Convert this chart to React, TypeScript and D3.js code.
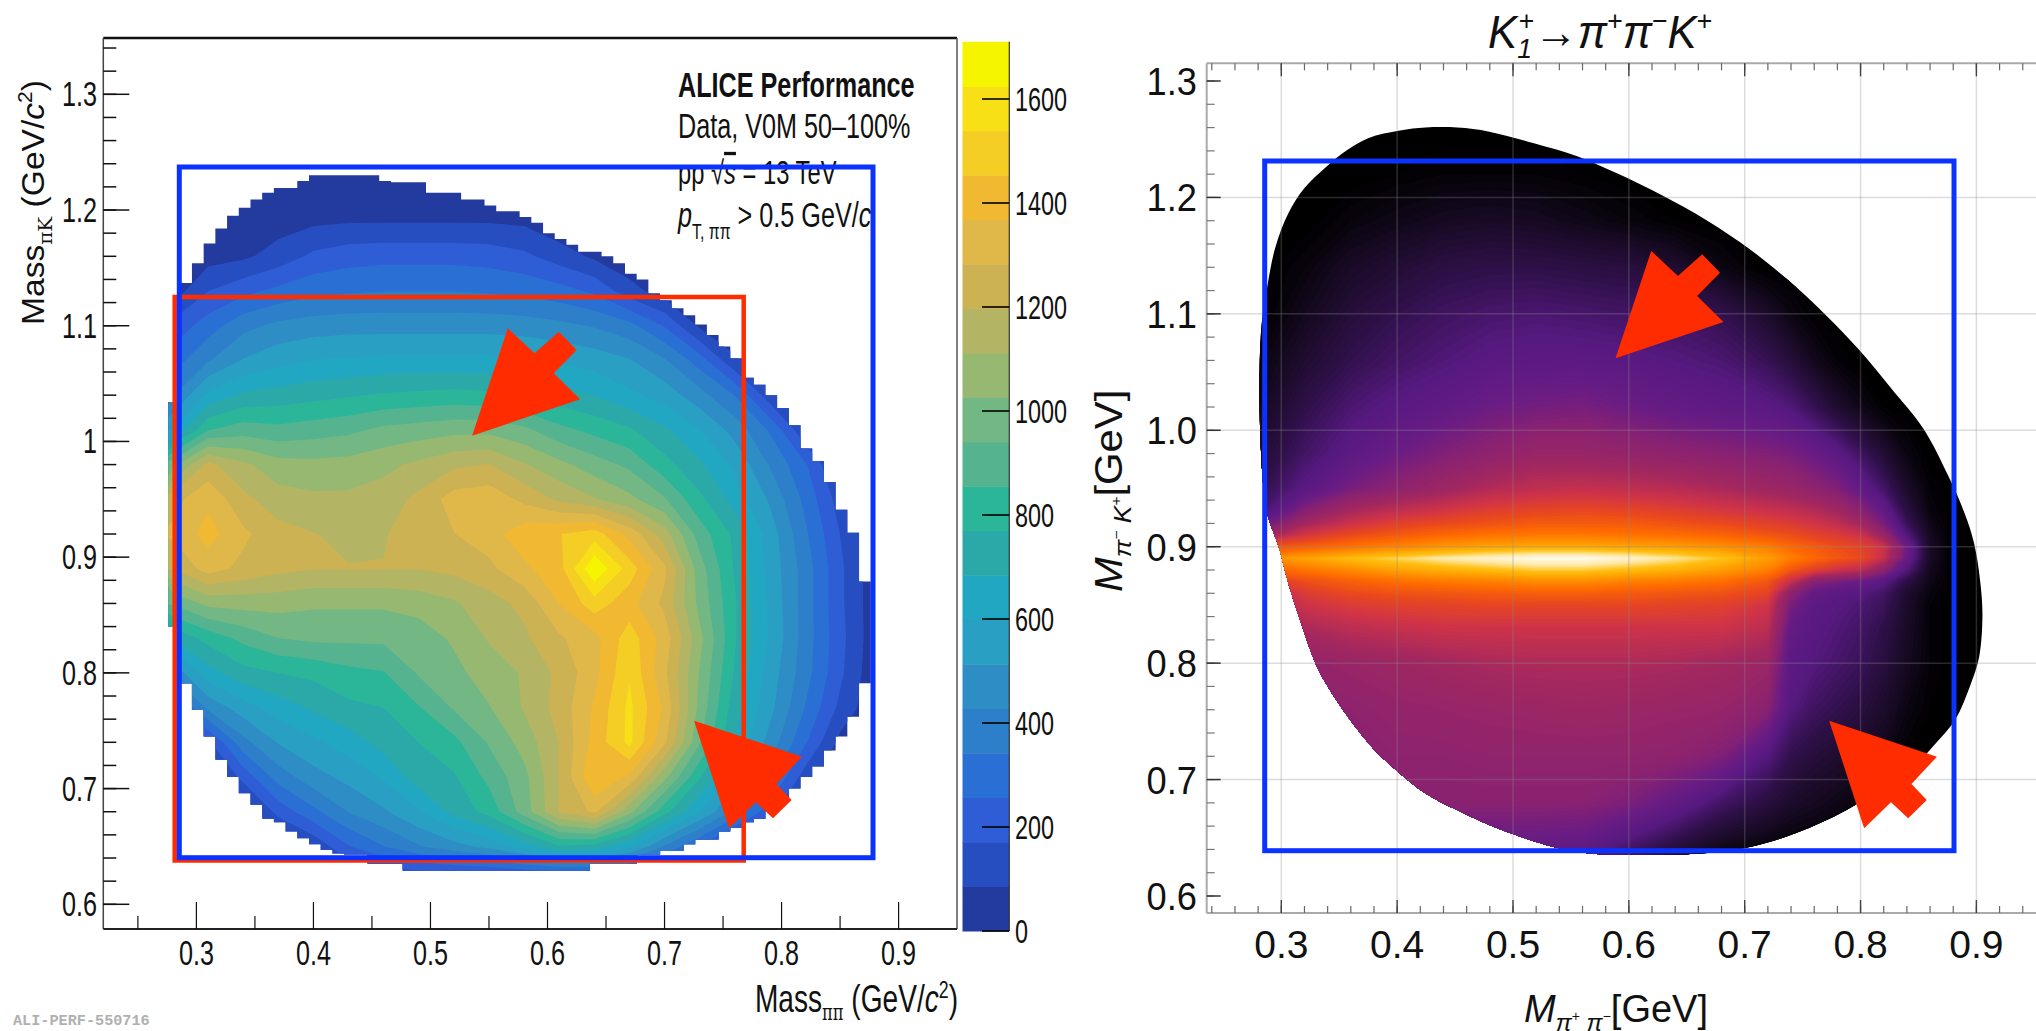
import React, { useMemo } from "react";
import * as d3 from "d3";

// ---------- left panel data (ALICE) ----------
const leftXNodes = [0.28,0.31,0.34,0.37,0.40,0.43,0.46,0.49,0.52,0.55,0.58,0.61,0.64,0.67,0.70,0.73,0.76,0.79,0.82,0.85,0.88];
const leftYNodes = [1.25,1.22,1.19,1.16,1.13,1.10,1.07,1.04,1.01,0.98,0.95,0.92,0.89,0.86,0.83,0.80,0.77,0.74,0.71,0.68,0.65,0.62];
const leftCounts = [
 [20,20,20,20,20,20,20,20,20,20,20,20,20,20,20,20,20,20,20,20,20],
 [20,20,20,30,40,40,40,40,40,40,30,20,20,20,20,20,20,20,20,20,20],
 [20,20,40,50,70,80,80,80,80,80,70,20,20,20,20,20,20,20,20,20,20],
 [20,50,70,120,190,220,230,230,230,220,190,130,70,20,20,20,20,20,20,20,20],
 [40,170,230,280,320,330,340,340,340,330,320,290,240,120,40,20,20,20,20,20,20],
 [200,300,400,450,470,480,480,480,480,480,470,450,420,370,250,70,20,20,20,20,20],
 [300,420,520,570,600,610,620,620,620,620,610,590,560,520,440,300,100,20,20,20,20],
 [420,620,700,720,740,760,780,790,800,790,760,720,680,620,560,460,340,120,20,20,20],
 [600,850,900,880,900,920,960,980,1000,1000,960,880,830,780,700,600,480,330,100,20,20],
 [1000,1220,1130,1060,1050,1060,1090,1130,1180,1200,1120,1050,980,920,800,700,580,420,270,60,20],
 [1250,1350,1220,1150,1130,1130,1150,1220,1320,1340,1260,1180,1120,1050,950,790,650,500,320,130,20],
 [1300,1400,1300,1230,1200,1180,1190,1240,1280,1330,1420,1450,1500,1340,1150,900,750,560,360,170,20],
 [1200,1320,1260,1220,1200,1200,1200,1200,1220,1260,1350,1420,1700,1500,1300,980,760,570,390,190,30],
 [950,1050,1060,1060,1040,1040,1040,1060,1100,1160,1220,1370,1500,1400,1260,1000,780,580,390,190,30],
 [700,800,880,940,960,960,960,980,1040,1120,1180,1270,1340,1500,1330,1050,780,590,390,200,30],
 [450,650,740,770,790,830,850,950,1000,1070,1120,1220,1340,1530,1300,1020,760,560,380,190,20],
 [200,450,560,640,700,750,770,850,950,1020,1120,1230,1380,1560,1350,1000,720,540,340,150,20],
 [20,150,400,520,580,640,720,770,830,950,1060,1200,1400,1560,1300,950,680,480,270,60,20],
 [20,20,200,380,480,540,610,730,760,880,1000,1200,1450,1350,1050,780,560,370,130,20,20],
 [20,20,20,200,320,430,500,590,710,800,980,1200,1300,1050,800,600,400,200,20,20,20],
 [20,20,20,20,100,250,340,420,480,540,640,760,740,620,420,250,60,20,20,20,20],
 [20,20,20,20,20,40,60,60,60,60,60,60,60,60,30,20,20,20,20,20,20],
];
const leftOutlineStart = 0.2762;
const leftOutlineStep = 0.01;
const leftOutlineTop = [1.034,1.137,1.154,1.171,1.184,1.195,1.202,1.209,1.215,1.219,1.219,1.225,1.230,1.230,1.230,1.230,1.230,1.230,1.225,1.224,1.224,1.224,1.215,1.215,1.215,1.209,1.209,1.204,1.199,1.199,1.194,1.189,1.180,1.175,1.170,1.164,1.164,1.160,1.154,1.145,1.140,1.128,1.122,1.115,1.109,1.101,1.092,1.082,1.072,1.055,1.049,1.040,1.029,1.014,0.994,0.983,0.965,0.941,0.921,0.879];
const leftOutlineBottom = [0.840,0.791,0.768,0.745,0.725,0.710,0.696,0.686,0.674,0.671,0.663,0.657,0.652,0.647,0.644,0.643,0.643,0.635,0.635,0.635,0.629,0.629,0.629,0.629,0.629,0.629,0.629,0.629,0.629,0.629,0.629,0.629,0.629,0.629,0.629,0.629,0.635,0.635,0.635,0.635,0.643,0.643,0.646,0.646,0.652,0.656,0.656,0.663,0.666,0.671,0.674,0.682,0.692,0.700,0.710,0.719,0.733,0.745,0.762,0.791];
const paletteBands = ["#233a9f","#274ec0","#2f5dd6","#2a6fd4","#2e7fc9","#2f8dc6","#2a9fc4","#22a7c2","#2ba9a9","#2bb69a","#55b38f","#73b884","#97b870","#b3b564","#cdb254","#e0b84a","#f1b832","#f5ce25","#f7e116","#f5f500"];
const bandWidth = 85.5;
const leftXTicks = [0.3,0.4,0.5,0.6,0.7,0.8,0.9];
const leftYTicks = [0.6,0.7,0.8,0.9,1.0,1.1,1.2,1.3];
const colorbarTicks = [0,200,400,600,800,1000,1200,1400,1600];

// ---------- right panel data (model) ----------
const rightXNodes = [0.28,0.32,0.36,0.40,0.44,0.48,0.52,0.56,0.60,0.64,0.68,0.72,0.74,0.76,0.78,0.80,0.82,0.84,0.86,0.88,0.90,0.92];
const rightYNodes = [1.26,1.22,1.18,1.14,1.10,1.06,1.02,0.98,0.95,0.93,0.92,0.91,0.90,0.89,0.88,0.87,0.86,0.85,0.83,0.80,0.76,0.72,0.68,0.64,0.62];
const rightIntensity = [
 [0,0,0,0,0,0,0,0,0,0,0,0,0,0,0,0,0,0,0,0,0,0],
 [0,0,0,.01,.02,.02,.02,.01,0,0,0,0,0,0,0,0,0,0,0,0,0,0],
 [0,0,.03,.05,.07,.08,.07,.05,.03,.01,0,0,0,0,0,0,0,0,0,0,0,0],
 [0,.03,.08,.11,.14,.15,.15,.14,.13,.10,.04,0,0,0,0,0,0,0,0,0,0,0],
 [0,.06,.12,.16,.19,.21,.22,.21,.20,.19,.16,.09,.04,.01,0,0,0,0,0,0,0,0],
 [.03,.10,.16,.20,.23,.26,.27,.27,.26,.24,.22,.17,.12,.06,.02,0,0,0,0,0,0,0],
 [.06,.15,.22,.26,.29,.33,.35,.36,.33,.30,.28,.26,.23,.17,.10,.05,.01,0,0,0,0,0],
 [.10,.20,.27,.33,.38,.42,.46,.46,.44,.42,.40,.38,.36,.32,.27,.19,.11,.04,0,0,0,0],
 [.15,.26,.36,.42,.48,.54,.57,.58,.57,.55,.52,.48,.46,.42,.38,.30,.20,.09,.02,0,0,0],
 [.20,.40,.52,.58,.62,.66,.68,.69,.68,.66,.63,.60,.58,.55,.50,.42,.30,.14,.03,0,0,0],
 [.30,.50,.60,.66,.69,.71,.73,.73,.73,.71,.69,.66,.64,.61,.57,.50,.36,.18,.05,0,0,0],
 [.45,.62,.69,.73,.76,.78,.79,.79,.78,.77,.75,.72,.70,.67,.64,.60,.46,.24,.07,0,0,0],
 [.70,.74,.78,.81,.84,.86,.87,.87,.86,.85,.83,.80,.76,.73,.70,.67,.60,.34,.08,0,0,0],
 [.82,.86,.90,.93,.96,.98,1,1,.98,.95,.91,.85,.80,.76,.72,.69,.58,.32,.08,0,0,0],
 [.74,.78,.82,.86,.88,.90,.92,.92,.90,.88,.85,.80,.72,.66,.60,.56,.42,.24,.06,0,0,0],
 [.60,.70,.74,.77,.79,.80,.82,.82,.80,.79,.77,.72,.58,.40,.36,.33,.26,.14,.05,0,0,0],
 [.50,.64,.69,.71,.72,.73,.74,.74,.73,.72,.71,.67,.42,.30,.27,.25,.20,.10,.03,0,0,0],
 [.50,.60,.64,.66,.67,.68,.68,.68,.68,.67,.66,.61,.36,.27,.25,.22,.18,.09,.02,0,0,0],
 [.45,.52,.56,.58,.60,.60,.60,.60,.60,.60,.60,.56,.30,.26,.23,.20,.15,.08,.02,0,0,0],
 [.40,.44,.46,.48,.50,.52,.53,.53,.53,.52,.50,.47,.27,.24,.21,.18,.13,.07,.02,0,0,0],
 [.38,.40,.42,.44,.45,.46,.47,.48,.47,.46,.45,.40,.24,.19,.16,.13,.09,.04,.01,0,0,0],
 [.38,.40,.41,.42,.42,.43,.43,.43,.43,.42,.38,.24,.16,.12,.10,.08,.05,.01,0,0,0,0],
 [.38,.39,.39,.40,.40,.40,.40,.40,.37,.30,.20,.13,.09,.07,.05,.03,.01,0,0,0,0,0],
 [.30,.30,.30,.30,.30,.30,.30,.28,.20,.12,.05,.02,.01,0,0,0,0,0,0,0,0,0],
 [.30,.30,.30,.30,.30,.30,.30,.28,.20,.12,.05,.02,.01,0,0,0,0,0,0,0,0,0],
];
const rightOutline = [
 [.2824,1.0833],[.2879,1.1234],[.2950,1.1577],[.3061,1.1864],[.3198,1.2078],[.3391,1.2265],[.3529,1.2379],[.3749,1.2508],[.4024,1.2574],[.4244,1.2600],[.4520,1.2600],[.4795,1.2565],[.5181,1.2465],[.5566,1.2350],[.5897,1.2207],[.6282,1.2021],[.6667,1.1807],[.7053,1.1549],[.7438,1.1234],[.7714,1.0976],[.7989,1.0690],[.8264,1.0361],[.8540,1.0017],[.8760,.9602],[.8898,.9287],[.8980,.9029],[.9035,.8685],[.9052,.8399],[.9024,.8055],[.8953,.7826],[.8815,.7511],[.8650,.7311],[.8430,.7082],[.8154,.6910],[.7879,.6738],[.7438,.6538],[.7053,.6424],[.6612,.6366],[.5676,.6366],[.5346,.6424],[.4905,.6567],[.4575,.6710],[.4244,.6882],[.4024,.7053],[.3804,.7254],[.3639,.7454],[.3474,.7683],[.3308,.7970],[.3171,.8342],[.3061,.8685],[.2978,.9000],[.2879,.9286],[.2824,.9830],
];
const rampStops = [0,.07,.15,.24,.32,.40,.50,.60,.68,.76,.84,.90,.95,1];
const rampColors = ["#000000","#180a24","#30104a","#561980","#691c84","#8a2270","#a3285f","#cf3348","#e8471f","#ff6a00","#ff9a00","#ffbf10","#ffe9a8","#fffdf5"];
const rightXTicks = [0.3,0.4,0.5,0.6,0.7,0.8,0.9];
const rightYTicks = [0.6,0.7,0.8,0.9,1.0,1.1,1.2,1.3];
const rightHGrid = [0.7,0.8,0.9,1.0,1.1,1.2];

// ---------- layout ----------
const W = 2036, H = 1031;
const L = { x0: 103.3, x1: 957, y0: 929, y1: 38 };
const R = { x0: 1206.7, x1: 2036, y0: 913, y1: 63.3 };
const lx = d3.scaleLinear().domain([0.3, 0.9]).range([196.4, 898.6]);
const ly = d3.scaleLinear().domain([0.6, 1.3]).range([904.3, 94.3]);
const rx = d3.scaleLinear().domain([0.3, 0.9]).range([1281.3, 1976.4]);
const ry = d3.scaleLinear().domain([0.6, 1.3]).range([896, 81]);
const cb = d3.scaleLinear().domain([0, 1600]).range([931, 99]);
const BLUE = "#0a33ff", RED = "#ff2c00";
const SANS = "'Liberation Sans', Arial, sans-serif";
const upperArrow = [[0,0],[108,-36.4],[81.6,-62.4],[104.5,-85.7],[86.7,-104],[62.4,-82.4],[35.7,-107.4]];
const lowerArrow = [[0,0],[107.8,36],[82.3,63.3],[97.6,79.3],[79,97.6],[61.8,81.6],[35,107.6]];

function Heat({ xn, yn, rows, thresholds, color, xS, yS, clip }: any) {
  const paths = useMemo(() => {
    const n = xn.length, m = yn.length;
    const gx = d3.scaleLinear().domain(xn.map((_: number, i: number) => i + 0.5)).range(xn);
    const gy = d3.scaleLinear().domain(yn.map((_: number, i: number) => i + 0.5)).range(yn);
    const proj = d3.geoTransform({
      point(this: any, x: number, y: number) { this.stream.point(xS(gx(x)), yS(gy(y))); },
    });
    const gen = d3.geoPath(proj);
    return d3.contours().size([n, m]).smooth(true).thresholds(thresholds)(rows.flat())
      .map((c: any) => ({ v: c.value, d: gen(c) }));
  }, []);
  return (
    <g clipPath={`url(#${clip})`}>
      {paths.map((p: any, i: number) => <path key={i} d={p.d!} fill={color(p.v)} />)}
    </g>
  );
}

function T({ x, y, sx = 1, size, anchor = "start", rot = 0, weight, style, fill = "#111", children }: any) {
  return (
    <text
      transform={`translate(${x},${y})${rot ? ` rotate(${rot})` : ""} scale(${sx},1)`}
      fontFamily={SANS} fontSize={size} textAnchor={anchor} fontWeight={weight} fontStyle={style} fill={fill}
    >{children}</text>
  );
}

function Arrow({ x, y, shape }: any) {
  const line = d3.line().curve(d3.curveLinearClosed);
  return <path d={line(shape.map(([a, b]: number[]) => [x + a, y + b]))!} fill={RED} />;
}

const fmt = (v: number) => (v === 1 ? "1" : d3.format(".1f")(v));

export default function App() {
  const leftOutlinePts: [number, number][] = [];
  leftOutlineTop.forEach((t, i) => {
    leftOutlinePts.push([lx(leftOutlineStart + i * leftOutlineStep), ly(t)], [lx(leftOutlineStart + (i + 1) * leftOutlineStep), ly(t)]);
  });
  [...leftOutlineBottom].reverse().forEach((b, k) => {
    const i = leftOutlineBottom.length - 1 - k;
    leftOutlinePts.push([lx(leftOutlineStart + (i + 1) * leftOutlineStep), ly(b)], [lx(leftOutlineStart + i * leftOutlineStep), ly(b)]);
  });
  const leftClip = d3.line().curve(d3.curveLinearClosed)(leftOutlinePts)!;
  const rightClip = d3.line().curve(d3.curveCatmullRomClosed)(rightOutline.map(([a, b]) => [rx(a), ry(b)] as [number, number]))!;

  const leftThresholds = paletteBands.map((_, i) => i * bandWidth);
  const leftColor = (v: number) => paletteBands[Math.min(19, Math.round(v / bandWidth))];
  const ramp = d3.scaleLinear<string>().domain(rampStops).range(rampColors).interpolate(d3.interpolateRgb);
  const rightThresholds = d3.range(0, 101).map((i) => i / 100);

  const lxMinor = d3.range(0, 16).map((i) => 0.25 + i * 0.05).filter((v) => lx(v) < L.x1 && lx(v) > L.x0 && Math.abs((v * 10) % 1) > 0.2 && Math.abs((v * 10) % 1) < 0.8);
  const lyMinor = d3.range(0, 39).map((i) => 0.58 + i * 0.02).filter((v) => ly(v) > L.y1 + 2 && ly(v) < L.y0 - 2);
  const rxMinor = d3.range(0, 37).map((i) => 0.24 + i * 0.02);
  const ryMinor = d3.range(0, 37).map((i) => 0.6 + i * 0.02).filter((v) => ry(v) > R.y1 && ry(v) < R.y0);

  return (
    <svg width={W} height={H} viewBox={`0 0 ${W} ${H}`} style={{ position: "absolute", left: 0, top: 0, display: "block", background: "#fff" }}>
      <defs>
        <clipPath id="leftHeat"><path d={leftClip} /></clipPath>
        <clipPath id="rightHeat"><path d={rightClip} /></clipPath>
        <clipPath id="boxText"><rect x={600} y={40} width={273} height={220} /></clipPath>
      </defs>

      {/* ---------- LEFT PANEL ---------- */}
      <Heat xn={leftXNodes} yn={leftYNodes} rows={leftCounts} thresholds={leftThresholds} color={leftColor} xS={lx} yS={ly} clip="leftHeat" />

      <line x1={L.x0} x2={L.x1} y1={L.y1} y2={L.y1} stroke="#111" strokeWidth={2.5} />
      <line x1={L.x0} x2={L.x0} y1={L.y1} y2={L.y0} stroke="#444" strokeWidth={1.5} />
      <line x1={L.x1} x2={L.x1} y1={L.y1} y2={L.y0} stroke="#555" strokeWidth={1.5} />
      <line x1={L.x0} x2={L.x1} y1={L.y0} y2={L.y0} stroke="#222" strokeWidth={2} />

      {leftXTicks.map((v) => (
        <g key={v}>
          <line x1={lx(v)} x2={lx(v)} y1={L.y0} y2={L.y0 - 27} stroke="#111" strokeWidth={1.2} />
          <T x={lx(v)} y={965} sx={0.72} size={35} anchor="middle">{fmt(v)}</T>
        </g>
      ))}
      {lxMinor.map((v) => <line key={v} x1={lx(v)} x2={lx(v)} y1={L.y0} y2={L.y0 - 13} stroke="#111" strokeWidth={1.2} />)}
      {leftYTicks.map((v) => (
        <g key={v}>
          <line x1={L.x0} x2={L.x0 + 26} y1={ly(v)} y2={ly(v)} stroke="#111" strokeWidth={1.5} />
          <T x={97} y={ly(v) + 12} sx={0.72} size={35} anchor="end">{fmt(v)}</T>
        </g>
      ))}
      {lyMinor.map((v) => <line key={v} x1={L.x0} x2={L.x0 + 13} y1={ly(v)} y2={ly(v)} stroke="#111" strokeWidth={1.5} />)}

      <T x={958} y={1011.5} sx={0.74} size={38} anchor="end">
        Mass<tspan fontSize={22} dy={8} fontFamily="'DejaVu Serif', serif">ππ</tspan><tspan dy={-8}> (GeV/</tspan><tspan fontStyle="italic">c</tspan><tspan fontSize={24} dy={-14}>2</tspan><tspan dy={14}>)</tspan>
      </T>
      <T x={43.5} y={325} sx={1.05} size={32} rot={-90}>
        Mass<tspan fontSize={19} dy={8} fontFamily="'DejaVu Serif', serif">πK</tspan><tspan dy={-8}>  (GeV/</tspan><tspan fontStyle="italic">c</tspan><tspan fontSize={20} dy={-12}>2</tspan><tspan dy={12}>)</tspan>
      </T>

      <T x={678} y={96.7} sx={0.72} size={35} weight="bold">ALICE Performance</T>
      <T x={678} y={138} sx={0.72} size={35}>Data, V0M 50–100%</T>
      <T x={678} y={184} sx={0.72} size={33}>pp √<tspan fontStyle="italic" textDecoration="overline">s</tspan> = 13 TeV</T>
      <g clipPath="url(#boxText)">
        <T x={678} y={226.7} sx={0.72} size={35}>
          <tspan fontStyle="italic">p</tspan><tspan fontSize={22} dy={12}>T, ππ</tspan><tspan dy={-12}> &gt; 0.5 GeV/</tspan><tspan fontStyle="italic">c</tspan>
        </T>
      </g>

      {/* colorbar */}
      {paletteBands.map((c, i) => (
        <rect key={c} x={962.5} width={46.5} y={cb((i + 1) * bandWidth)} height={cb(0) - cb(bandWidth) + 0.5} fill={c} />
      ))}
      <line x1={1009.3} x2={1009.3} y1={cb(20 * bandWidth)} y2={cb(0)} stroke="#333" strokeWidth={1.2} />
      {colorbarTicks.map((v) => (
        <g key={v}>
          <line x1={982} x2={1009.3} y1={cb(v)} y2={cb(v)} stroke="#000" strokeWidth={1.6} />
          <T x={1015} y={cb(v) + 12} sx={0.71} size={33}>{v}</T>
        </g>
      ))}

      <T x={13} y={1025} size={15.2} weight="bold" fill="#b0b0b0"><tspan fontFamily="'Liberation Mono', monospace">ALI-PERF-550716</tspan></T>

      <rect x={174.7} y={297} width={569} height={563.5} fill="none" stroke={RED} strokeWidth={4.5} />
      <rect x={179.3} y={167} width={693.7} height={690.7} fill="none" stroke={BLUE} strokeWidth={5} />
      <Arrow x={lx(0.5356)} y={ly(1.005)} shape={upperArrow} />
      <Arrow x={lx(0.7252)} y={ly(0.7587)} shape={lowerArrow} />

      {/* ---------- RIGHT PANEL ---------- */}
      <Heat xn={rightXNodes} yn={rightYNodes} rows={rightIntensity} thresholds={rightThresholds} color={ramp} xS={rx} yS={ry} clip="rightHeat" />

      {rightXTicks.map((v) => <line key={v} x1={rx(v)} x2={rx(v)} y1={R.y1} y2={R.y0} stroke="#8a8a8a" strokeOpacity={0.3} strokeWidth={1.5} />)}
      {rightHGrid.map((v) => <line key={v} x1={R.x0} x2={R.x1} y1={ry(v)} y2={ry(v)} stroke="#8a8a8a" strokeOpacity={0.3} strokeWidth={1.5} />)}

      <line x1={R.x0} x2={R.x1} y1={R.y1} y2={R.y1} stroke="#aaa" strokeWidth={2} />
      <line x1={R.x0} x2={R.x1} y1={R.y0} y2={R.y0} stroke="#aaa" strokeWidth={2} />
      <line x1={R.x0} x2={R.x0} y1={R.y1} y2={R.y0} stroke="#aaa" strokeWidth={2} />
      {rxMinor.map((v) => (
        <g key={v} stroke="#666" strokeWidth={1.2}>
          <line x1={rx(v)} x2={rx(v)} y1={R.y0} y2={R.y0 - 7} />
          <line x1={rx(v)} x2={rx(v)} y1={R.y1} y2={R.y1 + 7} />
        </g>
      ))}
      {rightXTicks.map((v) => (
        <g key={v}>
          <line x1={rx(v)} x2={rx(v)} y1={R.y0} y2={R.y0 - 13} stroke="#444" strokeWidth={1.4} />
          <line x1={rx(v)} x2={rx(v)} y1={R.y1} y2={R.y1 + 13} stroke="#444" strokeWidth={1.4} />
          <T x={rx(v)} y={957.5} size={39} anchor="middle" sx={1}>{v.toFixed(1)}</T>
        </g>
      ))}
      {ryMinor.map((v) => <line key={v} x1={R.x0} x2={R.x0 + 8} y1={ry(v)} y2={ry(v)} stroke="#777" strokeWidth={1.2} />)}
      {rightYTicks.map((v) => (
        <g key={v}>
          <line x1={R.x0} x2={R.x0 + 14} y1={ry(v)} y2={ry(v)} stroke="#333" strokeWidth={1.5} />
          <T x={1197} y={ry(v) + 14} size={39} anchor="end" sx={0.93}>{v.toFixed(1)}</T>
        </g>
      ))}

      <T x={1488} y={48} size={46} sx={0.95} style="italic">
        K<tspan fontSize={28} dy={10}>1</tspan><tspan fontSize={28} dy={-28} dx={-14} fontStyle="normal">+</tspan><tspan dy={18} fontStyle="normal">→</tspan><tspan>π</tspan><tspan fontSize={28} dy={-18} fontStyle="normal">+</tspan><tspan dy={18}>π</tspan><tspan fontSize={28} dy={-18} fontStyle="normal">−</tspan><tspan dy={18}>K</tspan><tspan fontSize={28} dy={-18} fontStyle="normal">+</tspan>
      </T>
      <T x={1524} y={1021.5} size={38} sx={1}>
        <tspan fontStyle="italic">M</tspan><tspan fontSize={24} dy={9} fontStyle="italic">π</tspan><tspan fontSize={14} dy={-10}>+</tspan><tspan fontSize={24} dy={10} fontStyle="italic"> π</tspan><tspan fontSize={14} dy={-10}>−</tspan><tspan dy={1}>[GeV]</tspan>
      </T>
      <T x={1122} y={592} size={38} sx={1.1} rot={-90}>
        <tspan fontStyle="italic">M</tspan><tspan fontSize={24} dy={9} fontStyle="italic">π</tspan><tspan fontSize={14} dy={-10}>−</tspan><tspan fontSize={24} dy={10} fontStyle="italic"> K</tspan><tspan fontSize={14} dy={-10}>+</tspan><tspan dy={1}>[GeV]</tspan>
      </T>

      <rect x={1264.7} y={161} width={689.3} height={689.7} fill="none" stroke={BLUE} strokeWidth={5} />
      <Arrow x={rx(0.5885)} y={ry(1.0618)} shape={upperArrow} />
      <Arrow x={rx(0.7729)} y={ry(0.7506)} shape={lowerArrow} />
    </svg>
  );
}
